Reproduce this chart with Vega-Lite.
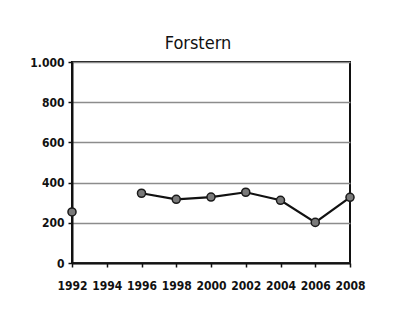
{
  "$schema": "https://vega.github.io/schema/vega-lite/v6.json",
  "autosize": {"type": "none"},
  "padding": {"left": 72, "top": 62, "right": 50, "bottom": 58},
  "width": 278,
  "height": 201,
  "background": "white",
  "title": {
    "text": "Forstern",
    "font": "DejaVu Sans Condensed",
    "fontSize": 18,
    "fontWeight": "normal",
    "color": "#111",
    "anchor": "middle",
    "dx": -13,
    "offset": 3
  },
  "data": {
    "values": [
      {"year": 1992, "value": 254},
      {"year": 1994, "value": null},
      {"year": 1996, "value": 347},
      {"year": 1998, "value": 317},
      {"year": 2000, "value": 328},
      {"year": 2002, "value": 352},
      {"year": 2004, "value": 312},
      {"year": 2006, "value": 202},
      {"year": 2008, "value": 327}
    ]
  },
  "config": {
    "view": {"stroke": "#111", "strokeWidth": 2},
    "axis": {
      "labelFont": "DejaVu Sans Condensed",
      "labelFontWeight": "bold",
      "labelFontSize": 12,
      "labelColor": "#111",
      "domainColor": "#111",
      "domainWidth": 2,
      "tickColor": "#111",
      "tickWidth": 1.5,
      "tickSize": 4,
      "title": null
    }
  },
  "encoding": {
    "x": {
      "field": "year",
      "type": "quantitative",
      "scale": {"domain": [1992, 2008], "nice": false, "zero": false},
      "axis": {"values": [1992, 1994, 1996, 1998, 2000, 2002, 2004, 2006, 2008], "format": "d", "grid": false, "labelPadding": 13, "labelFlush": false}
    },
    "y": {
      "field": "value",
      "type": "quantitative",
      "scale": {"domain": [0, 1000], "nice": false},
      "axis": {
        "values": [0, 200, 400, 600, 800, 1000],
        "format": "d",
        "labelExpr": "datum.value == 1000 ? '1.000' : datum.label",
        "grid": true,
        "gridColor": "#8c8c8c",
        "gridWidth": 1.5,
        "labelPadding": 4
      }
    }
  },
  "layer": [
    {
      "transform": [{"filter": "datum.year >= 1996"}],
      "mark": {"type": "line", "color": "#111", "strokeWidth": 2.2}
    },
    {
      "transform": [{"filter": "datum.value != null"}],
      "mark": {"type": "point", "filled": true, "fill": "#7a7a7a", "stroke": "#1a1a1a", "strokeWidth": 1.5, "size": 65, "opacity": 1}
    }
  ]
}
